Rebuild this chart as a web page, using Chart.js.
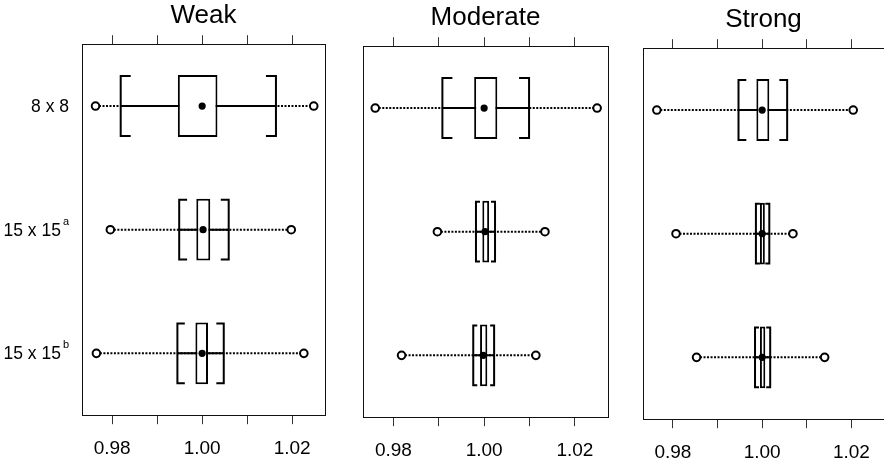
<!DOCTYPE html>
<html>
<head>
<meta charset="utf-8">
<script src="https://cdn.jsdelivr.net/npm/chart.js@4.4.0/dist/chart.umd.min.js"></script>
<style>
  html, body { margin: 0; padding: 0; background: #fff; overflow: hidden; }
  body { width: 884px; height: 461px; position: relative; }
  canvas { position: absolute; }
</style>
</head>
<body>
<canvas id="c1" width="340" height="473" style="left:0;top:0"></canvas>
<canvas id="c2" width="280" height="473" style="left:340px;top:2px"></canvas>
<canvas id="c3" width="270" height="473" style="left:620px;top:4px"></canvas>
<script>
// ---------- DATA ----------
const rowKeys = ['8x8', '15x15a', '15x15b'];
const rowLabels = ['8 x 8', '15 x 15', '15 x 15'];
const rowSups = ['', 'a', 'b'];
const tickValues = [0.98, 0.99, 1.00, 1.01, 1.02];
const tickLabels = ['0.98', '', '1.00', '', '1.02'];

// Weak
const weakMin = [0.9763, 0.9796, 0.9765];
const weakLo  = [0.9819, 0.9949, 0.9945];
const weakQ1  = [0.9946, 0.9987, 0.9985];
const weakMed = [1.0000, 1.0002, 1.0000];
const weakQ3  = [1.0034, 1.0018, 1.0013];
const weakHi  = [1.0164, 1.0059, 1.0048];
const weakMax = [1.0248, 1.0198, 1.0226];

// Moderate
const modMin = [0.9760, 0.9897, 0.9818];
const modLo  = [0.9908, 0.9982, 0.9976];
const modQ1  = [0.9978, 0.9996, 0.9991];
const modMed = [1.0000, 1.0002, 0.9998];
const modQ3  = [1.0029, 1.0011, 1.0007];
const modHi  = [1.0099, 1.0024, 1.0022];
const modMax = [1.0249, 1.0134, 1.0114];

// Strong
const strMin = [0.9764, 0.9807, 0.9853];
const strLo  = [0.9947, 0.9986, 0.9984];
const strQ1  = [0.9987, 0.9995, 0.9995];
const strMed = [1.0000, 1.0000, 1.0000];
const strQ3  = [1.0016, 1.0006, 1.0007];
const strHi  = [1.0056, 1.0016, 1.0018];
const strMax = [1.0204, 1.0069, 1.0140];

const xMin = 0.9733, xMax = 1.0273;

Chart.defaults.font.family = '"Liberation Sans", Arial, Helvetica, sans-serif';
Chart.defaults.color = '#000';

// brackets [ ] at lo / hi, same height as the box
const bracketPlugin = {
    id: 'brackets',
    afterDatasetsDraw(chart, args, opts) {
        const {ctx, scales: {x, y}} = chart;
        const boxMeta = chart.getDatasetMeta(opts.boxIndex);
        ctx.save();
        ctx.strokeStyle = '#000';
        ctx.lineWidth = 2;
        ctx.lineJoin = 'miter';
        opts.lo.forEach((v, i) => {
            const xl = x.getPixelForValue(v);
            const xh = x.getPixelForValue(opts.hi[i]);
            const yc = y.getPixelForValue(i);
            const h = boxMeta.data[i].height / 2 - 1;
            const arm = Math.max(4, Math.min(10, (xh - xl) * 0.16));
            ctx.beginPath();
            ctx.moveTo(xl + arm, yc - h); ctx.lineTo(xl, yc - h);
            ctx.lineTo(xl, yc + h); ctx.lineTo(xl + arm, yc + h);
            ctx.moveTo(xh - arm, yc - h); ctx.lineTo(xh, yc - h);
            ctx.lineTo(xh, yc + h); ctx.lineTo(xh - arm, yc + h);
            ctx.stroke();
        });
        ctx.restore();
    }
};

// row labels with superscripts (first panel only)
const rowLabelPlugin = {
    id: 'rowLabels',
    afterDraw(chart, args, opts) {
        if (!opts.show) return;
        const {ctx, chartArea, scales: {y}} = chart;
        const right = chartArea.left - 13;
        const big = '17.5px "Liberation Sans", Arial, sans-serif';
        const small = '11px "Liberation Sans", Arial, sans-serif';
        ctx.save();
        ctx.fillStyle = '#000';
        ctx.textBaseline = 'middle';
        ctx.textAlign = 'left';
        rowLabels.forEach((lab, i) => {
            const yc = y.getPixelForValue(i) + 1;
            ctx.font = big;
            const wMain = ctx.measureText(lab).width;
            ctx.font = small;
            const wSup = rowSups[i] ? ctx.measureText(rowSups[i]).width + 2 : 0;
            const x0 = right - wMain - wSup;
            ctx.font = big;
            ctx.fillText(lab, x0, yc);
            if (rowSups[i]) {
                ctx.font = small;
                ctx.fillText(rowSups[i], x0 + wMain + 2, yc - 9);
            }
        });
        ctx.restore();
    }
};

function makePanel(canvasId, title, s, pad, showLabels) {
    const rows = [0, 1, 2];
    const datasets = [];
    // median dots
    datasets.push({ type: 'scatter', data: rows.map(i => ({ x: s.med[i], y: rowKeys[i] })),
        pointRadius: 3.6, pointBackgroundColor: '#000', pointBorderWidth: 0, order: 0 });
    // min / max open circles
    datasets.push({ type: 'scatter', data: rows.flatMap(i => [{ x: s.min[i], y: rowKeys[i] }, { x: s.max[i], y: rowKeys[i] }]),
        pointRadius: 3.8, pointBackgroundColor: '#fff', pointBorderColor: '#000', pointBorderWidth: 2, order: 0 });
    // boxes q1..q3
    datasets.push({ type: 'bar', data: rows.map(i => [s.q1[i], s.q3[i]]),
        backgroundColor: '#fff', borderColor: '#000', borderWidth: 2, borderSkipped: false,
        barPercentage: 1, categoryPercentage: 0.5, order: 1 });
    const boxIndex = 2;
    rows.forEach(i => {
        // solid whisker lo..hi
        datasets.push({ type: 'scatter', showLine: true, data: [{ x: s.lo[i], y: rowKeys[i] }, { x: s.hi[i], y: rowKeys[i] }],
            borderColor: '#000', borderWidth: 2, pointRadius: 0, order: 2 });
        // dotted line min..max
        datasets.push({ type: 'scatter', showLine: true, data: [{ x: s.min[i], y: rowKeys[i] }, { x: s.max[i], y: rowKeys[i] }],
            borderColor: '#000', borderWidth: 2, borderDash: [2, 1.5], pointRadius: 0, order: 3 });
    });

    new Chart(document.getElementById(canvasId), {
        type: 'bar',
        data: { labels: rowKeys, datasets },
        options: {
            indexAxis: 'y',
            responsive: false,
            animation: false,
            devicePixelRatio: 1,
            layout: { padding: { left: pad.left, right: pad.right, top: 0, bottom: 0 } },
            plugins: {
                legend: { display: false },
                tooltip: { enabled: false },
                title: { display: true, text: title, fullSize: false, color: '#000',
                    font: { size: 26, weight: 'normal', lineHeight: 1.2 }, padding: { top: 0, bottom: 4 } },
                brackets: { lo: s.lo, hi: s.hi, boxIndex },
                rowLabels: { show: showLabels }
            },
            scales: {
                x: {
                    type: 'linear', position: 'bottom', min: xMin, max: xMax,
                    afterBuildTicks: sc => { sc.ticks = tickValues.map(v => ({ value: v })); },
                    ticks: { callback: (v, idx) => tickLabels[idx], font: { size: 19 }, padding: 13,
                        autoSkip: false, maxRotation: 0, color: '#000' },
                    grid: { drawOnChartArea: false, tickLength: 9, color: '#333' },
                    border: { color: '#111', width: 1 }
                },
                x2: {
                    type: 'linear', position: 'top', min: xMin, max: xMax,
                    afterBuildTicks: sc => { sc.ticks = tickValues.map(v => ({ value: v })); },
                    ticks: { display: false },
                    grid: { drawOnChartArea: false, tickLength: 9, color: '#333' },
                    border: { color: '#111', width: 1 }
                },
                y: {
                    type: 'category', position: 'left', offset: true,
                    ticks: { display: false },
                    grid: { display: false, drawTicks: false, tickLength: 0 },
                    border: { color: '#111', width: 1 }
                },
                y2: {
                    type: 'category', position: 'right', offset: true, labels: rowKeys,
                    ticks: { display: false },
                    grid: { display: false, drawTicks: false, tickLength: 0 },
                    border: { color: '#111', width: 1 }
                }
            }
        },
        plugins: [bracketPlugin, rowLabelPlugin]
    });
}

makePanel('c1', 'Weak',
    { min: weakMin, lo: weakLo, q1: weakQ1, med: weakMed, q3: weakQ3, hi: weakHi, max: weakMax },
    { left: 82, right: 15 }, true);
makePanel('c2', 'Moderate',
    { min: modMin, lo: modLo, q1: modQ1, med: modMed, q3: modQ3, hi: modHi, max: modMax },
    { left: 23, right: 12 }, false);
makePanel('c3', 'Strong',
    { min: strMin, lo: strLo, q1: strQ1, med: strMed, q3: strQ3, hi: strHi, max: strMax },
    { left: 23, right: 3 }, false);
</script>
</body>
</html>
